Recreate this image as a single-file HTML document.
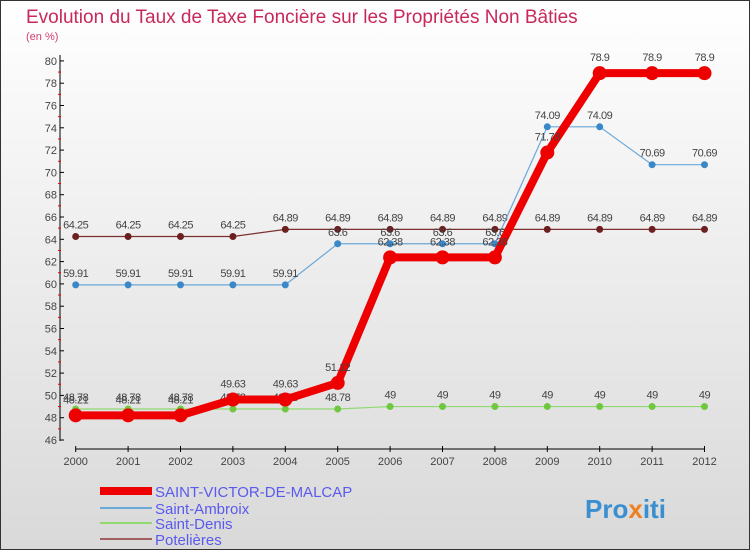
<!DOCTYPE html>
<html><head><meta charset="utf-8"><style>
body{margin:0;width:750px;height:550px;overflow:hidden}
svg{display:block;font-family:"Liberation Sans",sans-serif}
</style></head><body>
<svg id="c" width="750" height="550">
<defs><linearGradient id="bg" x1="0" y1="0" x2="0" y2="1"><stop offset="0" stop-color="#ffffff"/><stop offset="1" stop-color="#d9d9d9"/></linearGradient></defs>
<rect x="0.5" y="0.5" width="749" height="549" fill="url(#bg)" stroke="#333"/>
<text x="26" y="23" font-size="19" fill="#c8285a">Evolution du Taux de Taxe Foncière sur les Propriétés Non Bâties</text>
<text x="26" y="40" font-size="11" fill="#d04070">(en %)</text>
<g id="axes"></g><g id="series"></g><g id="legend"></g>
<text x="585" y="518" font-size="26" font-weight="bold" fill="#3a8fd0">Pro<tspan fill="#f08020">x</tspan>iti</text>
</svg>
<script>
const years=[2000,2001,2002,2003,2004,2005,2006,2007,2008,2009,2010,2011,2012];
const yTicks=[46,48,50,52,54,56,58,60,62,64,66,68,70,72,74,76,78,80];
const svm=[48.21,48.21,48.21,49.63,49.63,51.12,62.38,62.38,62.38,71.78,78.9,78.9,78.9];
const ambroix=[59.91,59.91,59.91,59.91,59.91,63.6,63.6,63.6,63.6,74.09,74.09,70.69,70.69];
const denis=[48.78,48.78,48.78,48.78,48.78,48.78,49,49,49,49,49,49,49];
const poteliere=[64.25,64.25,64.25,64.25,64.89,64.89,64.89,64.89,64.89,64.89,64.89,64.89,64.89];
const NS="http://www.w3.org/2000/svg";
const X=i=>75.7+i*52.4, Y=v=>440-(v-46)*11.15;
function mk(p,t,a,txt){const e=document.createElementNS(NS,t);for(const k in a)e.setAttribute(k,a[k]);if(txt!==undefined)e.textContent=txt;p.appendChild(e);return e;}
const ax=document.getElementById('axes');
const ya=mk(ax,'line',{x1:60,y1:55,x2:60,y2:441,stroke:'#000'});


const xa=mk(ax,'line',{x1:X(0),y1:449,x2:X(12),y2:449,stroke:'#000'});


yTicks.forEach(v=>{
 mk(ax,'line',{x1:60,y1:Y(v),x2:64,y2:Y(v),stroke:'#000'});
 if(v<80)mk(ax,'line',{x1:58,y1:Y(v+1),x2:61,y2:Y(v+1),stroke:'#e00'});
 const t=mk(ax,'text',{x:57,y:Y(v)+4,'font-size':11,fill:'#444','text-anchor':'end'},String(v));
 
 
});
years.forEach((y,i)=>{
 mk(ax,'line',{x1:X(i),y1:446,x2:X(i),y2:452,stroke:'#000'});
 const t=mk(ax,'text',{x:X(i),y:465,'font-size':11,fill:'#444','text-anchor':'middle'},String(y));
 
 
});
const sg=document.getElementById('series');
const S=[
 {n:'poteliere',d:poteliere,c:'#7a3030',pc:'#6b1f1f',w:1.2,r:3.5},
 {n:'saint-ambroix',d:ambroix,c:'#6aa8d8',pc:'#3a88c8',w:1.2,r:3.5},
 {n:'saint-denis',d:denis,c:'#90d870',pc:'#70c840',w:1.2,r:3.5},
 {n:'saint-victor',d:svm,c:'#ee0000',pc:'#ee0000',w:8,r:7}];
S.forEach(s=>{
 const g=mk(sg,'g',{});
 
 
 const l=mk(g,'polyline',{points:s.d.map((v,i)=>X(i)+','+Y(v)).join(' '),fill:'none',stroke:s.c,'stroke-width':s.w});
 
 
 s.d.forEach((v,i)=>{
  const p=mk(g,'circle',{cx:X(i),cy:Y(v),r:s.r,fill:s.pc});
  
  
  const t=mk(g,'text',{x:X(i),y:Y(v)-8-(s.r>5?4:0),'font-size':11,fill:'#444','text-anchor':'middle','letter-spacing':'-0.5'},String(v));
  
  
 });
});
const lg=document.getElementById('legend');
const L=[['SAINT-VICTOR-DE-MALCAP','#ee0000',8,491],['Saint-Ambroix','#6aa8d8',2,508],['Saint-Denis','#90d870',2,523],['Potelières','#a06060',2,539]];
L.forEach(e=>{
 const g=mk(lg,'g',{});
 
 
 mk(g,'line',{x1:100,y1:e[3],x2:152,y2:e[3],stroke:e[1],'stroke-width':e[2]});
 mk(g,'text',{x:155,y:e[3]+6,'font-size':15,fill:'#5a5aee'},e[0]);
});
</script>
</body></html>
